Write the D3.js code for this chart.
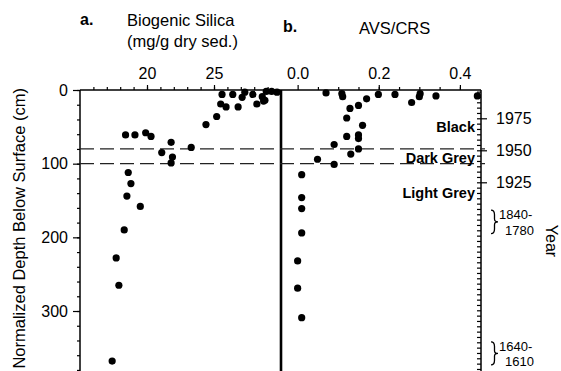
<!DOCTYPE html>
<html><head><meta charset="utf-8">
<script src="https://cdn.jsdelivr.net/npm/d3@7"></script>
<style>
body{margin:0;background:#fff;}
svg{display:block;}
text{font-family:"Liberation Sans",Arial,Helvetica,sans-serif;fill:#000;}
</style></head><body>
<svg id="chart" width="561" height="371"></svg>
<script>
// ---- data ----
const silicaValues = [25.6,26.4,27.3,27.1,27.9,28.6,28.9,29.3,29.7,28.8,25.5,25.9,26.8,28.2,28.7,25.2,24.4,18.4,19.1,19.9,20.3,21.8,23.3,21.1,21.9,21.8,18.6,18.8,18.5,19.5,18.3,17.7,17.9,17.4];
const silicaDepths = [6,6,3,10,6,9,2,2,3,14,19,23,23,19,15,36,47,61,61,58,63,71,78,85,91,99,112,127,144,158,190,228,265,368];
const avsValues = [0.070,0.109,0.111,0.170,0.150,0.129,0.121,0.160,0.199,0.240,0.281,0.300,0.302,0.341,0.443,0.121,0.150,0.150,0.090,0.150,0.131,0.049,0.090,0.010,0.010,0.010,0.010,0.000,0.000,0.010];
const avsDepths = [4,5,9,12,21,25,38,48,6,6,17,9,5,8,8,63,61,66,74,80,87,94,101,115,146,161,194,232,269,309];
const depthTicks = [0,100,200,300];
const silicaTicks = [20,25];
const avsTicks = [0.0,0.2,0.4];
const yearTicks = [1975,1950,1925];
const boundaryDepths = [80,100];
const zoneNames = ["Black","Dark Grey","Light Grey"];
const zoneDepths = [57,99,146];
const rangeTop = ["1840-","1640-"];
const rangeBottom = ["1780","1610"];
const rangeDepthStart = [163,342];
const rangeDepthEnd = [195,373];

// ---- scales ----
const svg = d3.select("#chart");
const y = d3.scaleLinear().domain([0,385]).range([90,90+385*0.7367]);
const xS = d3.scaleLinear().domain([15,30]).range([80,281]);
const xA = d3.scaleLinear().domain([-0.041,0.452]).range([281,481]);
const yr = d3.scaleLinear().domain([1975,1925]).range([118.3,182.3]);
const yBottom = y.range()[1];

function clean(g){ g.select(".domain").remove(); g.selectAll(".tick line").attr("stroke","#000").attr("stroke-width",1.2); return g; }

// left axis
svg.append("g").attr("transform","translate(80,0)")
  .call(d3.axisLeft(y).tickValues(d3.range(0,385,20)).tickSize(3).tickFormat(""))
  .call(clean);
svg.append("g").attr("transform","translate(80,0)")
  .call(d3.axisLeft(y).tickValues(depthTicks).tickSize(7).tickPadding(5).tickFormat(d3.format("d")))
  .call(clean)
  .selectAll("text").style("font-size","16px");

// top axes
svg.append("g").attr("transform","translate(0,90)")
  .call(d3.axisTop(xS).tickValues(d3.range(16,30,1)).tickSize(3).tickFormat(""))
  .call(clean);
svg.append("g").attr("transform","translate(0,90)")
  .call(d3.axisTop(xS).tickValues(silicaTicks).tickSize(5).tickPadding(6))
  .call(clean)
  .selectAll("text").style("font-size","16px");
svg.append("g").attr("transform","translate(0,90)")
  .call(d3.axisTop(xA).tickValues(d3.range(0.05,0.45,0.05)).tickSize(3).tickFormat(""))
  .call(clean);
svg.append("g").attr("transform","translate(0,90)")
  .call(d3.axisTop(xA).tickValues(avsTicks).tickSize(5).tickPadding(6).tickFormat(d3.format(".1f")))
  .call(clean)
  .selectAll("text").style("font-size","16px");

// right (year) axis: minor ticks six per 25-year interval
const yearMinor = d3.range(-5,49).map(i => 1975 - i*25/6);
svg.append("g").attr("transform","translate(481,0)")
  .call(d3.axisLeft(yr).tickValues(yearMinor).tickSize(4).tickFormat(""))
  .call(clean);
svg.append("g").attr("transform","translate(481,0)")
  .call(d3.axisRight(yr).tickValues(yearTicks).tickSize(6).tickPadding(9).tickFormat(d3.format("d")))
  .call(clean)
  .selectAll("text").style("font-size","16px");

// frame lines
svg.append("line").attr("x1",80).attr("x2",481).attr("y1",90).attr("y2",90).attr("stroke","#000").attr("stroke-width",1.5);
svg.append("line").attr("x1",80).attr("x2",80).attr("y1",90).attr("y2",yBottom).attr("stroke","#000").attr("stroke-width",1.5);
svg.append("line").attr("x1",281).attr("x2",281).attr("y1",90).attr("y2",yBottom).attr("stroke","#000").attr("stroke-width",2.6);
svg.append("line").attr("x1",481).attr("x2",481).attr("y1",90).attr("y2",yBottom).attr("stroke","#000").attr("stroke-width",1.5);

// boundaries
svg.selectAll("line.bd").data(boundaryDepths).enter().append("line")
  .attr("x1",80).attr("x2",485).attr("y1",d=>y(d)).attr("y2",d=>y(d))
  .attr("stroke","#222").attr("stroke-width",1.2).attr("stroke-dasharray","14,6");

// points
svg.append("g").selectAll("circle").data(silicaValues).enter().append("circle")
  .attr("cx",d=>xS(d)).attr("cy",(d,i)=>y(silicaDepths[i])).attr("r",3.6).attr("fill","#000");
svg.append("g").selectAll("circle").data(avsValues).enter().append("circle")
  .attr("cx",d=>xA(d)).attr("cy",(d,i)=>y(avsDepths[i])).attr("r",3.6).attr("fill","#000");

// zone labels
svg.selectAll("text.zone").data(zoneNames).enter().append("text")
  .attr("x",475).attr("y",(d,i)=>y(zoneDepths[i])).attr("text-anchor","end")
  .style("font-size","14.5px").style("font-weight","bold").text(d=>d);

// range brackets
function brace(x,y0,y1,w){
  const ym=(y0+y1)/2, h=y1-y0, xm=x+w/2;
  return `M${x},${y0} Q${xm},${y0} ${xm},${y0+h*0.2} L${xm},${ym-h*0.12} Q${xm},${ym} ${x+w},${ym} Q${xm},${ym} ${xm},${ym+h*0.12} L${xm},${y1-h*0.2} Q${xm},${y1} ${x},${y1}`;
}
rangeTop.forEach((t,i)=>{
  const y0=y(rangeDepthStart[i]), y1=y(rangeDepthEnd[i]);
  svg.append("path").attr("d",brace(491,y0,y1,7)).attr("fill","none").attr("stroke","#000").attr("stroke-width",1.3);
  svg.append("text").attr("x",499).attr("y",y0+9).style("font-size","13px").text(t);
  svg.append("text").attr("x",505).attr("y",y1+1).style("font-size","13px").text(rangeBottom[i]);
});

// titles
svg.append("text").attr("x",80).attr("y",25).style("font-size","16px").style("font-weight","bold").text("a.");
svg.append("text").attr("x",127).attr("y",26).style("font-size","16.5px").text("Biogenic Silica");
svg.append("text").attr("x",127).attr("y",47).style("font-size","16.5px").text("(mg/g dry sed.)");
svg.append("text").attr("x",283).attr("y",32).style("font-size","16px").style("font-weight","bold").text("b.");
svg.append("text").attr("x",359).attr("y",34).style("font-size","16.5px").text("AVS/CRS");
svg.append("text").attr("transform","translate(25,88) rotate(-90)").attr("text-anchor","end")
  .style("font-size","16.5px").text("Normalized Depth Below Surface (cm)");
svg.append("text").attr("transform","translate(546,241) rotate(90)").attr("text-anchor","middle")
  .style("font-size","16px").text("Year");
</script>
</body></html>
